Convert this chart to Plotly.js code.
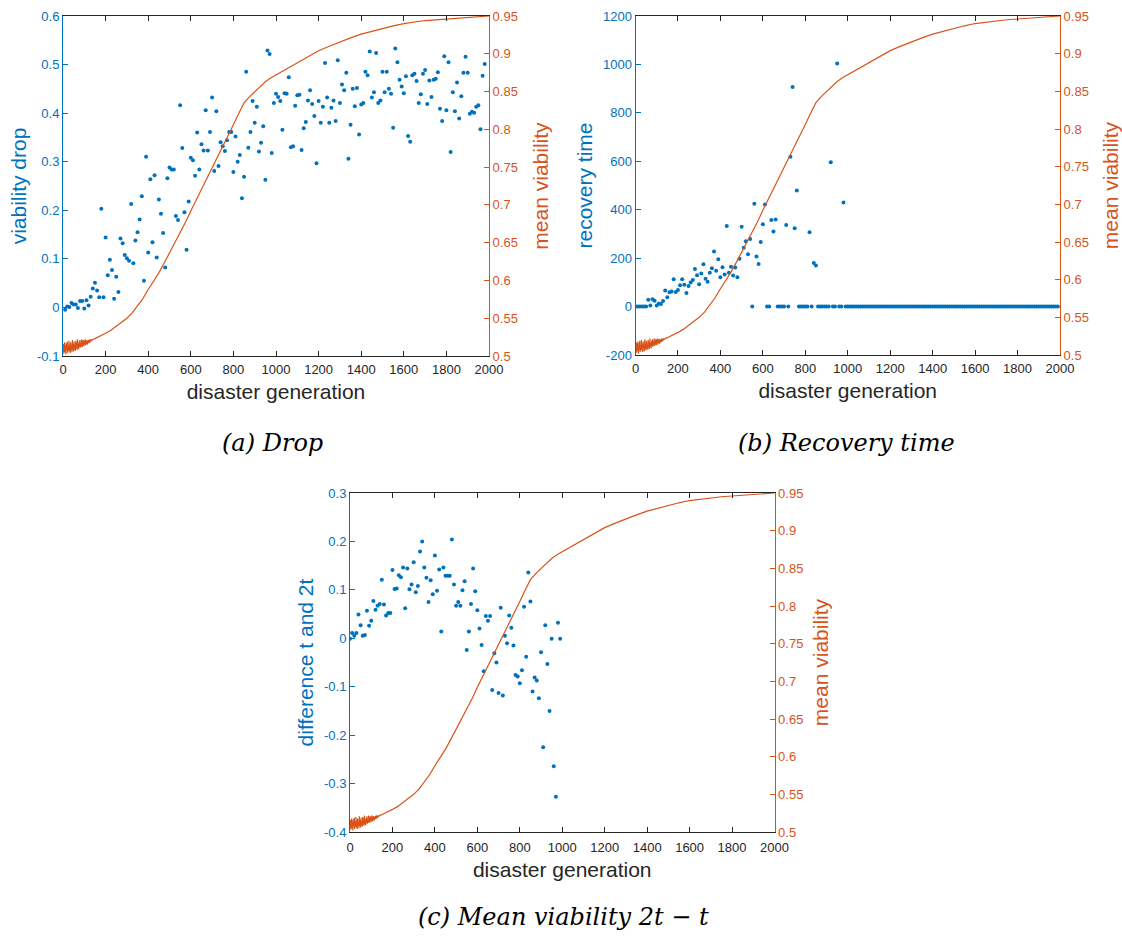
<!DOCTYPE html>
<html>
<head>
<meta charset="utf-8">
<script src="https://cdn.plot.ly/plotly-3.0.1.min.js"></script>
<style>html,body{margin:0;padding:0;background:#fff;}#chart{width:1122px;height:936px;}</style>
</head>
<body>
<div id="chart"></div>
<script>
// ---------- DATA ----------
const genTicks = [0,200,400,600,800,1000,1200,1400,1600,1800,2000];
const genTickText = ['0','200','400','600','800','1000','1200','1400','1600','1800','2000'];
const dropTicks = [-0.1,0,0.1,0.2,0.3,0.4,0.5,0.6];
const dropTickText = ['-0.1','0','0.1','0.2','0.3','0.4','0.5','0.6'];
const recTicks = [-200,0,200,400,600,800,1000,1200];
const recTickText = ['-200','0','200','400','600','800','1000','1200'];
const diffTicks = [-0.4,-0.3,-0.2,-0.1,0,0.1,0.2,0.3];
const diffTickText = ['-0.4','-0.3','-0.2','-0.1','0','0.1','0.2','0.3'];
const meanTicks = [0.5,0.55,0.6,0.65,0.7,0.75,0.8,0.85,0.9,0.95];
const meanTickText = ['0.5','0.55','0.6','0.65','0.7','0.75','0.8','0.85','0.9','0.95'];

// mean viability per generation (orange line, shared by all panels)
const meanGen = [0,2,4,6,8,10,12,14,16,18,20,22,24,26,28,30,32,34,36,38,40,42,44,46,48,50,52,54,56,58,60,62,64,66,68,70,72,74,76,78,80,82,84,86,88,90,92,94,96,98,100,102,104,106,108,110,112,114,116,118,120,122,124,126,128,130,132,134,136,138,140,
150,175,200,225,250,275,300,325,350,375,400,425,450,475,500,525,550,575,600,625,650,675,700,725,750,775,800,825,850,875,900,925,950,975,1000,1050,1100,1150,1200,1250,1300,1350,1400,1450,1500,1550,1600,1650,1700,1750,1800,1850,1900,1950,2000];
const meanVal = [0.506,0.516,0.503,0.512,0.518,0.505,0.514,0.502,0.517,0.508,0.519,0.504,0.513,0.507,0.520,0.506,0.515,0.504,0.518,0.509,0.513,0.505,0.521,0.508,0.516,0.506,0.519,0.509,0.514,0.507,0.520,0.510,0.517,0.508,0.522,0.511,0.516,0.509,0.519,0.512,0.521,0.511,0.517,0.513,0.522,0.512,0.518,0.514,0.521,0.513,0.519,0.515,0.522,0.514,0.520,0.516,0.521,0.515,0.520,0.517,0.521,0.517,0.522,0.518,0.521,0.519,0.522,0.520,0.522,0.521,0.522,
0.523,0.526,0.530,0.534,0.539,0.544,0.550,0.557,0.566,0.576,0.588,0.599,0.610,0.623,0.636,0.649,0.663,0.677,0.692,0.706,0.720,0.734,0.749,0.763,0.777,0.791,0.806,0.821,0.835,0.843,0.850,0.857,0.863,0.868,0.872,0.881,0.889,0.897,0.904,0.910,0.916,0.921,0.926,0.930,0.934,0.937,0.940,0.942,0.944,0.945,0.946,0.947,0.948,0.949,0.950];

// (a) viability drop
const dropGen = [10,20,30,40,50,60,70,80,90,100,110,120,130,140,150,160,170,180,190,200,210,220,230,240,250,260,270,280,290,300,310,320,330,340,350,360,370,380,390,400,410,420,430,440,450,460,470,480,490,500,510,520,530,540,550,560,570,580,590,600,610,620,630,640,650,660,670,680,690,700,710,720,730,740,750,760,770,780,790,800,810,820,830,840,850,860,870,880,890,900,910,920,930,940,950,960,970,980,990,1000,1010,1020,1030,1040,1050,1060,1070,1080,1090,1100,1110,1120,1130,1140,1150,1160,1170,1180,1190,1200,1210,1220,1230,1240,1250,1260,1270,1280,1290,1300,1310,1320,1330,1340,1350,1360,1370,1380,1390,1400,1410,1420,1430,1440,1450,1460,1470,1480,1490,1500,1510,1520,1530,1540,1550,1560,1570,1580,1590,1600,1610,1620,1630,1640,1650,1660,1670,1680,1690,1700,1710,1720,1730,1740,1750,1760,1770,1780,1790,1800,1810,1820,1830,1840,1850,1860,1870,1880,1890,1900,1910,1920,1930,1940,1950,1960,1970,1980];
const dropVal = [-0.005,0.002,0.001,0.009,0.006,0.006,-0.001,0.013,0.013,-0.002,0.015,0.004,0.022,0.039,0.051,0.035,0.021,0.203,0.021,0.144,0.066,0.098,0.077,0.018,0.063,0.032,0.142,0.132,0.108,0.101,0.096,0.213,0.091,0.138,0.155,0.181,0.229,0.055,0.310,0.113,0.264,0.134,0.272,0.103,0.222,0.193,0.153,0.082,0.266,0.288,0.284,0.284,0.188,0.180,0.416,0.328,0.196,0.119,0.218,0.308,0.303,0.271,0.360,0.284,0.336,0.323,0.406,0.323,0.361,0.432,0.281,0.404,0.291,0.340,0.332,0.322,0.344,0.361,0.361,0.279,0.352,0.300,0.314,0.225,0.269,0.485,0.329,0.361,0.425,0.380,0.413,0.321,0.339,0.373,0.263,0.529,0.522,0.318,0.421,0.440,0.433,0.425,0.366,0.441,0.440,0.474,0.330,0.332,0.415,0.437,0.438,0.324,0.369,0.382,0.426,0.447,0.419,0.394,0.297,0.425,0.380,0.413,0.503,0.432,0.380,0.411,0.426,0.384,0.509,0.421,0.459,0.447,0.483,0.306,0.376,0.450,0.414,0.452,0.356,0.418,0.421,0.485,0.478,0.527,0.432,0.443,0.524,0.421,0.426,0.485,0.443,0.485,0.450,0.440,0.370,0.533,0.505,0.469,0.455,0.441,0.476,0.353,0.341,0.478,0.481,0.466,0.421,0.439,0.481,0.489,0.419,0.467,0.433,0.469,0.471,0.484,0.409,0.384,0.517,0.406,0.505,0.320,0.443,0.404,0.463,0.389,0.435,0.483,0.516,0.483,0.399,0.403,0.401,0.413,0.416,0.367,0.477,0.501];

// (b) recovery time
const recGen = [0,10,20,30,40,50,60,70,80,90,100,110,120,130,140,150,160,170,180,190,200,210,220,230,240,250,260,270,280,290,300,310,320,330,340,350,360,370,380,390,400,410,420,430,440,450,460,470,480,490,500,510,520,530,540,550,560,570,580,590,600,610,620,630,640,650,660,670,680,690,700,710,720,730,740,750,760,770,780,790,800,810,820,830,840,850,860,870,880,890,900,910,920,930,940,950,960,970,980,990,1000,1010,1020,1030,1040,1050,1060,1070,1080,1090,1100,1110,1120,1130,1140,1150,1160,1170,1180,1190,1200,1210,1220,1230,1240,1250,1260,1270,1280,1290,1300,1310,1320,1330,1340,1350,1360,1370,1380,1390,1400,1410,1420,1430,1440,1450,1460,1470,1480,1490,1500,1510,1520,1530,1540,1550,1560,1570,1580,1590,1600,1610,1620,1630,1640,1650,1660,1670,1680,1690,1700,1710,1720,1730,1740,1750,1760,1770,1780,1790,1800,1810,1820,1830,1840,1850,1860,1870,1880,1890,1900,1910,1920,1930,1940,1950,1960,1970,1980,1990];
const recVal = [0,0,0,0,0,0,28,4,30,24,4,13,11,23,66,38,59,62,113,60,68,88,113,90,56,85,99,110,155,129,92,137,175,115,102,140,158,227,148,195,121,162,132,333,140,164,128,161,121,198,330,243,270,216,279,0,425,207,176,267,340,422,0,0,358,310,360,0,0,0,0,337,0,619,907,323,479,0,0,0,0,0,307,0,180,170,0,0,0,0,0,0,596,0,0,1004,0,0,430,0,
0,0,0,0,0,0,0,0,0,0,0,0,0,0,0,0,0,0,0,0,0,0,0,0,0,0,0,0,0,0,0,0,0,0,0,0,0,0,0,0,0,0,0,0,0,0,0,0,0,0,0,0,0,0,0,0,0,0,0,0,0,0,0,0,0,0,0,0,0,0,0,0,0,0,0,0,0,0,0,0,0,0,0,0,0,0,0,0,0,0,0,0,0,0,0,0,0,0,0,0];

// (c) difference between t and 2t
const diffGen = [0,10,20,30,40,50,60,70,80,90,100,110,120,130,140,150,160,170,180,190,200,210,220,230,240,250,260,270,280,290,300,310,320,330,340,350,360,370,380,390,400,410,420,430,440,450,460,470,480,490,500,510,520,530,540,550,560,570,580,590,600,610,620,630,640,650,660,670,680,690,700,710,720,730,740,750,760,770,780,790,800,810,820,830,840,850,860,870,880,890,900,910,920,930,940,950,960,970,980,990];
const diffVal = [-0.001,0.011,0.005,0.011,0.049,0.027,0.005,0.007,0.057,0.026,0.036,0.077,0.059,0.067,0.071,0.121,0.070,0.047,0.052,0.052,0.141,0.102,0.103,0.130,0.126,0.146,0.062,0.144,0.101,0.111,0.157,0.095,0.108,0.179,0.200,0.146,0.125,0.075,0.120,0.091,0.171,0.098,0.142,0.014,0.146,0.129,0.129,0.129,0.204,0.111,0.067,0.075,0.067,0.099,0.118,-0.024,0.014,0.071,0.144,0.097,0.058,0.020,-0.014,-0.068,0.046,0.036,0.046,-0.107,-0.031,-0.050,-0.113,0.063,-0.118,0.005,-0.010,0.047,0.022,-0.015,-0.076,-0.079,-0.093,-0.066,0.065,-0.038,0.136,0.076,-0.110,-0.081,-0.087,-0.124,-0.029,-0.225,0.027,-0.053,-0.150,-0.001,-0.264,-0.327,0.032,-0.001];

// ---------- STYLE / LAYOUT ----------
const W = 1122, H = 936;
const BLUE = '#0072BD', ORANGE = '#D95319', DARK = '#262626';
const FONT = 'Liberation Sans, Arial, Helvetica, sans-serif';
const dx = (a, b) => [a / W, b / W];
const dy = (top, bottom) => [1 - bottom / H, 1 - top / H];

function xAxis(domain, anchor, labelGap, titleGap) {
  return {
    domain: domain, anchor: anchor, range: [0, 2000],
    tickmode: 'array', tickvals: genTicks, ticktext: genTickText,
    ticks: 'inside', ticklen: 5, tickwidth: 1, tickcolor: DARK,
    ticklabelstandoff: labelGap,
    showline: true, linecolor: DARK, linewidth: 1, mirror: 'ticks',
    showgrid: false, zeroline: false,
    tickfont: {family: FONT, size: 13, color: DARK},
    title: {text: 'disaster generation', font: {family: FONT, size: 21, color: DARK}, standoff: titleGap}
  };
}
function leftAxis(domain, anchor, range, vals, text, title) {
  return {
    domain: domain, anchor: anchor, range: range,
    tickmode: 'array', tickvals: vals, ticktext: text,
    ticks: 'inside', ticklen: 5, tickwidth: 1, tickcolor: BLUE,
    showline: true, linecolor: BLUE, linewidth: 1,
    showgrid: false, zeroline: false,
    tickfont: {family: FONT, size: 13, color: BLUE},
    title: {text: title, font: {family: FONT, size: 21, color: BLUE}, standoff: 4}
  };
}
function rightAxis(over, anchor, titleGap) {
  return {
    overlaying: over, side: 'right', anchor: anchor, range: [0.5, 0.95],
    tickmode: 'array', tickvals: meanTicks, ticktext: meanTickText,
    ticks: 'inside', ticklen: 5, tickwidth: 1, tickcolor: ORANGE,
    showline: true, linecolor: ORANGE, linewidth: 1,
    showgrid: false, zeroline: false,
    tickfont: {family: FONT, size: 13, color: ORANGE},
    title: {text: 'mean viability', font: {family: FONT, size: 21, color: ORANGE}, standoff: titleGap}
  };
}
const dotStyle = {color: BLUE, size: 4, symbol: 'circle', line: {width: 0}};
const lineStyle = {color: ORANGE, width: 1.2};

const traces = [
  {type: 'scatter', mode: 'markers', x: dropGen, y: dropVal, xaxis: 'x', yaxis: 'y', marker: dotStyle, name: 'viability drop'},
  {type: 'scatter', mode: 'lines', x: meanGen, y: meanVal, xaxis: 'x', yaxis: 'y2', line: lineStyle, name: 'mean viability'},
  {type: 'scatter', mode: 'markers', x: recGen, y: recVal, xaxis: 'x2', yaxis: 'y3', marker: dotStyle, name: 'recovery time'},
  {type: 'scatter', mode: 'lines', x: meanGen, y: meanVal, xaxis: 'x2', yaxis: 'y4', line: lineStyle, name: 'mean viability'},
  {type: 'scatter', mode: 'markers', x: diffGen, y: diffVal, xaxis: 'x3', yaxis: 'y5', marker: dotStyle, name: 'difference t and 2t'},
  {type: 'scatter', mode: 'lines', x: meanGen, y: meanVal, xaxis: 'x3', yaxis: 'y6', line: lineStyle, name: 'mean viability'}
];

const capFont = {family: 'DejaVu Serif, serif', size: 24, color: '#000'};
const layout = {
  width: W, height: H, showlegend: false,
  paper_bgcolor: '#fff', plot_bgcolor: '#fff',
  margin: {l: 0, r: 0, t: 0, b: 0},
  xaxis: xAxis(dx(63, 489), 'y', 1, 8),
  yaxis: leftAxis(dy(16, 356), 'x', [-0.1, 0.6], dropTicks, dropTickText, 'viability drop'),
  yaxis2: rightAxis('y', 'x', 16),
  xaxis2: xAxis(dx(635.5, 1060), 'y3', 1, 8),
  yaxis3: leftAxis(dy(16, 355), 'x2', [-200, 1200], recTicks, recTickText, 'recovery time'),
  yaxis4: rightAxis('y3', 'x2', 16),
  xaxis3: xAxis(dx(350, 774.5), 'y5', 3, 8),
  yaxis5: leftAxis(dy(493, 832), 'x3', [-0.4, 0.3], diffTicks, diffTickText, 'difference t and 2t'),
  yaxis6: rightAxis('y5', 'x3', 10),
  annotations: [
    {text: '<i>(a) Drop</i>', x: 272 / W, y: 1 - 443 / H, xref: 'paper', yref: 'paper', showarrow: false, font: capFont, xanchor: 'center', yanchor: 'middle'},
    {text: '<i>(b) Recovery time</i>', x: 846 / W, y: 1 - 443 / H, xref: 'paper', yref: 'paper', showarrow: false, font: capFont, xanchor: 'center', yanchor: 'middle'},
    {text: '<i>(c) Mean viability 2t − t</i>', x: 563 / W, y: 1 - 917 / H, xref: 'paper', yref: 'paper', showarrow: false, font: capFont, xanchor: 'center', yanchor: 'middle'}
  ]
};

Plotly.newPlot('chart', traces, layout, {displayModeBar: false, staticPlot: true});
</script>
</body>
</html>
